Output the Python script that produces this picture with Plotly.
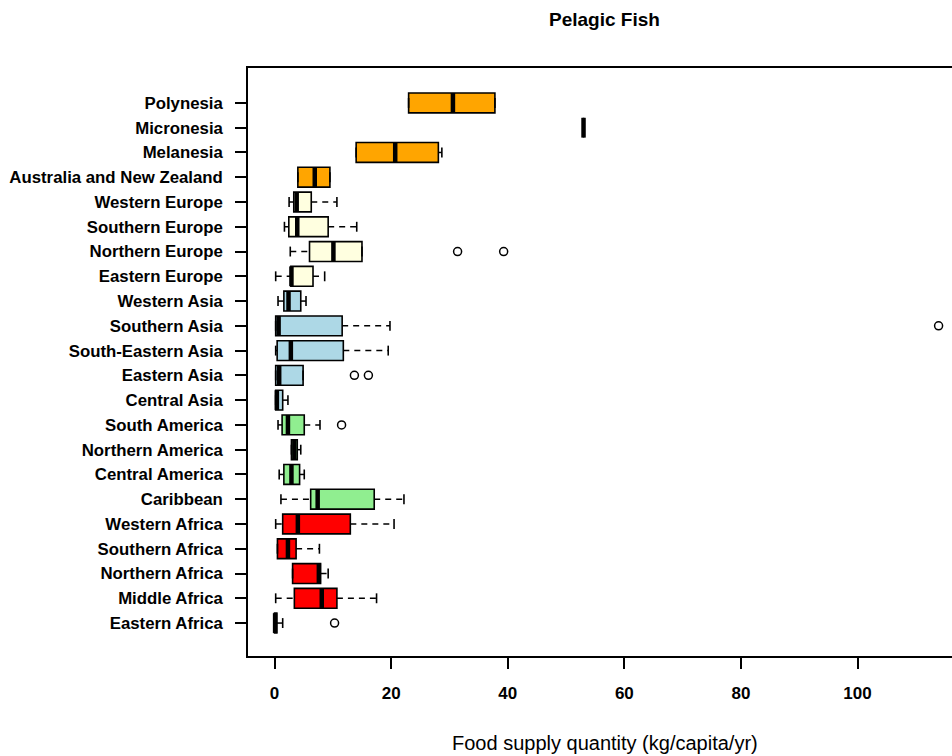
import plotly.graph_objects as go

categories = ["Eastern Africa", "Middle Africa", "Northern Africa", "Southern Africa", "Western Africa",
              "Caribbean", "Central America", "Northern America", "South America",
              "Central Asia", "Eastern Asia", "South-Eastern Asia", "Southern Asia", "Western Asia",
              "Eastern Europe", "Northern Europe", "Southern Europe", "Western Europe",
              "Australia and New Zealand", "Melanesia", "Micronesia", "Polynesia"]
lower = [0.0, 0.2, 3.1, 0.5, 0.2, 1.1, 0.8, 2.9, 0.6, 0.2, 0.2, 0.2, 0.2, 0.6,
         0.2, 2.7, 1.7, 2.5, 4.0, 14.0, 53.0, 23.0]
q1 = [0.0, 3.4, 3.1, 0.5, 1.4, 6.2, 1.6, 2.9, 1.3, 0.2, 0.2, 0.45, 0.2, 1.6,
      2.8, 6.0, 2.45, 3.3, 4.0, 14.0, 53.0, 23.0]
median = [0.1, 8.1, 7.6, 2.3, 4.0, 7.4, 2.9, 3.4, 2.3, 0.4, 0.8, 2.8, 0.7, 2.4,
          2.9, 10.1, 3.9, 3.8, 6.9, 20.7, 53.0, 30.6]
q3 = [0.4, 10.7, 7.9, 3.7, 13.0, 17.1, 4.3, 3.9, 5.1, 1.4, 4.9, 11.8, 11.6, 4.5,
      6.6, 15.0, 9.2, 6.3, 9.5, 28.1, 53.0, 37.8]
upper = [1.4, 17.5, 9.2, 7.7, 20.5, 22.2, 5.1, 4.5, 7.8, 2.3, 4.9, 19.5, 19.8, 5.4,
         8.6, 15.0, 14.1, 10.7, 9.5, 28.7, 53.0, 37.8]
outliers = {"Eastern Africa": [10.3], "South America": [11.5], "Eastern Asia": [13.7, 16.1],
            "Southern Asia": [113.9], "Northern Europe": [31.4, 39.3]}
region_colors = (["#FF0000"] * 5 + ["#90EE90"] * 4 + ["#ADD8E6"] * 5 +
                 ["#FFFFE0"] * 4 + ["#FFA500"] * 4)

pos = list(range(1, len(categories) + 1))
BW = 0.8     # box width
SW = 0.2     # staple half-length

fig = go.Figure()

# boxes
fig.add_trace(go.Bar(
    y=pos, x=[b - a for a, b in zip(q1, q3)], base=q1, orientation="h", width=BW,
    marker=dict(color=region_colors, line=dict(color="black", width=1.6)),
    showlegend=False, hoverinfo="skip"))

# dashed whiskers
wx, wy = [], []
for p, lo, a, b, hi in zip(pos, lower, q1, q3, upper):
    if hi > b:
        wx += [b, hi, None]; wy += [p, p, None]
    if lo < a:
        wx += [lo, a, None]; wy += [p, p, None]
fig.add_trace(go.Scatter(x=wx, y=wy, mode="lines",
                         line=dict(color="black", width=1.5, dash="6px,5px"),
                         showlegend=False, hoverinfo="skip"))

# staples
sx, sy = [], []
for p, lo, hi in zip(pos, lower, upper):
    sx += [lo, lo, None, hi, hi, None]
    sy += [p - SW, p + SW, None, p - SW, p + SW, None]
fig.add_trace(go.Scatter(x=sx, y=sy, mode="lines", line=dict(color="black", width=1.6),
                         showlegend=False, hoverinfo="skip"))

# medians
mx, my = [], []
for p, m in zip(pos, median):
    mx += [m, m, None]; my += [p - BW / 2, p + BW / 2, None]
fig.add_trace(go.Scatter(x=mx, y=my, mode="lines", line=dict(color="black", width=4.5),
                         showlegend=False, hoverinfo="skip"))

# outliers
ox, oy = [], []
for c, vals in outliers.items():
    for v in vals:
        ox.append(v); oy.append(pos[categories.index(c)])
fig.add_trace(go.Scatter(x=ox, y=oy, mode="markers",
                         marker=dict(symbol="circle-open", size=8, color="black",
                                     line=dict(width=1.5, color="black")),
                         showlegend=False, hoverinfo="skip"))

fig.update_layout(
    width=952, height=756,
    margin=dict(l=248, r=0, t=68, b=100),
    paper_bgcolor="white", plot_bgcolor="white",
    font=dict(family="Liberation Sans", color="black"),
    xaxis=dict(range=[-4.55, 116.2], tickvals=[0, 20, 40, 60, 80, 100],
               ticks="outside", ticklen=11, tickwidth=1.5, tickcolor="black",
               showline=True, linecolor="black", linewidth=1.5, mirror=True,
               showgrid=False, zeroline=False, ticklabelstandoff=10,
               tickfont=dict(family="Liberation Sans", size=17, color="black", weight="bold")),
    yaxis=dict(range=[-0.33, 23.41], tickvals=pos, ticktext=categories,
               ticks="outside", ticklen=11, tickwidth=1.5, tickcolor="black",
               showline=True, linecolor="black", linewidth=1.5,
               showgrid=False, zeroline=False, ticklabelstandoff=9,
               tickfont=dict(family="Liberation Sans", size=16.8, color="black", weight="bold")),
    annotations=[
        dict(text="Pelagic Fish", xref="paper", yref="paper", x=0.507, y=(656 - 20) / 588,
             xanchor="center", yanchor="middle", showarrow=False,
             font=dict(family="Liberation Sans", size=19, color="black", weight="bold")),
        dict(text="Food supply quantity (kg/capita/yr)", xref="paper", yref="paper",
             x=0.507, y=(656 - 743) / 588, xanchor="center", yanchor="middle", showarrow=False,
             font=dict(family="Liberation Sans", size=20, color="black")),
    ],
)

fig.write_html("out.html")
